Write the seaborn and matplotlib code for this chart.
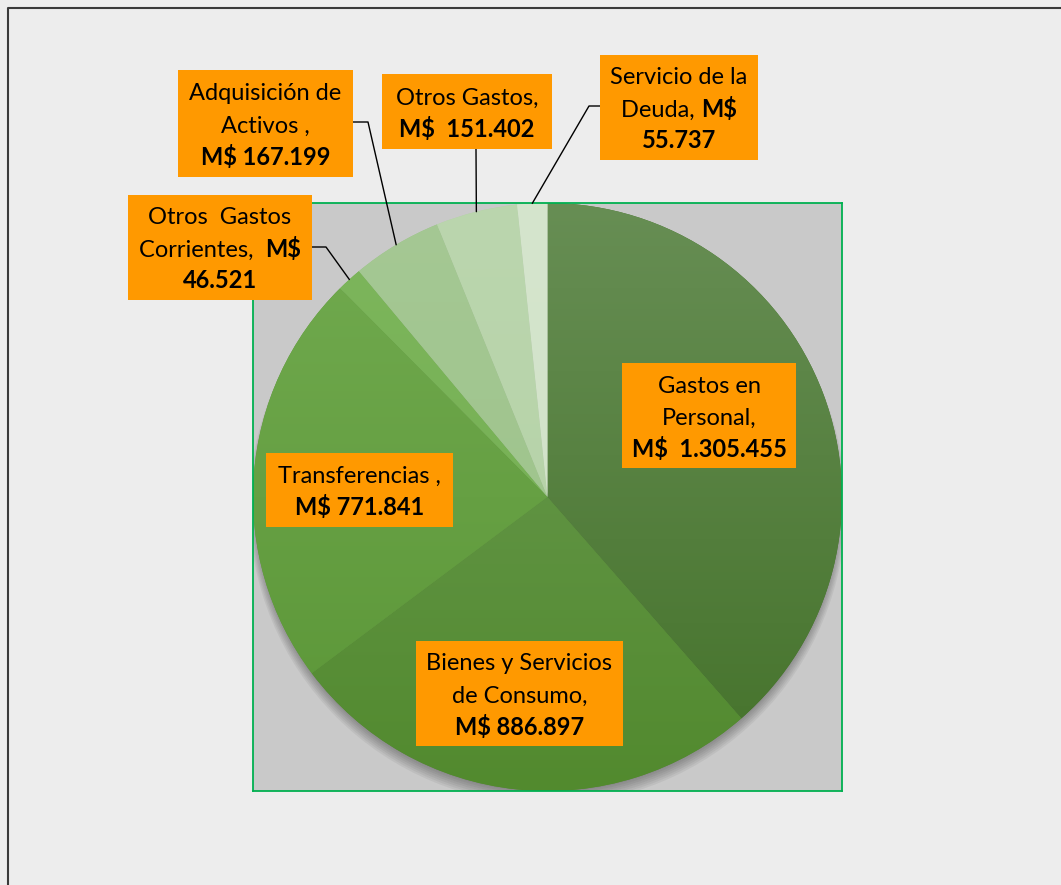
import numpy as np
import matplotlib
matplotlib.use('Agg')
import matplotlib.pyplot as plt
import seaborn as sns
from matplotlib.patches import Rectangle, Circle
from matplotlib.lines import Line2D
from matplotlib.colors import LinearSegmentedColormap

# Datos del gasto (M$)
categorias = ['Gastos en Personal', 'Bienes y Servicios de Consumo', 'Transferencias',
              'Otros Gastos Corrientes', 'Adquisición de Activos', 'Otros Gastos',
              'Servicio de la Deuda']
montos = [1305455, 886897, 771841, 46521, 167199, 151402, 55737]

# Colores (arriba / abajo del degradado)
color_sup = ['#678E54', '#6C9B55', '#72AB50', '#7DB65C', '#A5C894', '#BBD6AE', '#D5E5CD']
color_inf = ['#44722A', '#528A2E', '#5A9536', '#72AD50', '#9BC288', '#B3D1A5', '#CFE1C6']

def miles(v):
    return f"{v:,}".replace(',', '.')

# etiquetas: lineas -> segmentos (texto, negrita)
N, B = False, True
etiquetas = [
    [[("Gastos en", N)], [("Personal,", N)], [("M$  " + miles(montos[0]), B)]],
    [[("Bienes y Servicios", N)], [("de Consumo,", N)], [("M$ " + miles(montos[1]), B)]],
    [[("Transferencias ,", N)], [("M$ " + miles(montos[2]), B)]],
    [[("Otros  Gastos", N)], [("Corrientes,  ", N), ("M$", B)], [(miles(montos[3]), B)]],
    [[("Adquisición de", N)], [("Activos ,", N)], [("M$ " + miles(montos[4]), B)]],
    [[("Otros Gastos,", N)], [("M$  " + miles(montos[5]), B)]],
    [[("Servicio de la", N)], [("Deuda, ", N), ("M$", B)], [(miles(montos[6]), B)]],
]

# cajas de etiquetas en pixeles (x0, y0, x1, y1), origen arriba-izquierda
cajas = [
    (622, 363, 796, 468),
    (416, 641, 623, 746),
    (266, 453, 453, 527),
    (128, 195, 312, 300),
    (178, 70, 353, 177),
    (382, 74, 552, 149),
    (600, 55, 758, 160),
]
# lineas guia: indice -> (punto en la caja, codo)
guias = {3: [(312, 247), (326, 247)],
         4: [(353, 122), (368, 122)],
         5: [(476, 149)],
         6: [(600, 106), (589, 106)]}

sns.set_style('white')
plt.rcParams['font.family'] = ['Lato', 'DejaVu Sans']

W, H = 1061, 885
fig = plt.figure(figsize=(W / 100, H / 100), dpi=100)
fig.patch.set_facecolor('#EDEDED')

def fx(x):
    return x / W

def fy(y):
    return 1 - y / H

# borde exterior
fig.add_artist(Line2D([fx(8), fx(8), fx(W + 5)], [fy(H + 5), fy(8), fy(8)],
                      transform=fig.transFigure, color='#3A3A3A', lw=1.5))

ax = fig.add_axes([fx(253), fy(791), (842 - 253) / W, (791 - 203) / H])
ax.set_facecolor('#C9C9C9')

# sombra suave (hacia abajo)
for k in range(8):
    ax.add_patch(Circle((0, -0.012 - 0.003 * k), 0.985 + 0.004 * k, color='black',
                        alpha=0.05, lw=0, zorder=0))

wedges, _ = ax.pie(montos, colors=color_inf, startangle=90, counterclock=False,
                   radius=1.0, frame=True, wedgeprops=dict(linewidth=0))

grad = np.linspace(1, 0, 256).reshape(-1, 1)
for w, c1, c2 in zip(wedges, color_sup, color_inf):
    cmap = LinearSegmentedColormap.from_list('g', [c2, c1])
    im = ax.imshow(grad, extent=(-1, 1, -1, 1), cmap=cmap, aspect='auto', zorder=2,
                   vmin=0, vmax=1)
    im.set_clip_path(w)

ax.set_xlim(-1, 1)
ax.set_ylim(-1, 1)
ax.set_xticks([])
ax.set_yticks([])
for s in ax.spines.values():
    s.set_color('#00B050')
    s.set_linewidth(1.3)
    s.set_zorder(5)

# etiquetas: cada linea por separado para controlar el interlineado
renderer = fig.canvas.get_renderer()
paso = 32
tam = 17
for lineas, (x0, y0, x1, y1) in zip(etiquetas, cajas):
    fig.add_artist(Rectangle((fx(x0), fy(y1)), (x1 - x0) / W, (y1 - y0) / H,
                             transform=fig.transFigure, fc='#FF9900', ec='none', zorder=6))
    cx, cy = (x0 + x1) / 2, (y0 + y1) / 2
    n = len(lineas)
    for k, segs in enumerate(lineas):
        base = cy + (k - (n - 1) / 2) * paso + 9
        textos = [fig.text(0, fy(base), t, fontsize=tam, fontweight='bold' if b else 'normal',
                           ha='left', va='baseline', color='black', zorder=7) for t, b in segs]
        anchos = [t.get_window_extent(renderer).width for t in textos]
        x = cx - sum(anchos) / 2
        for t, a in zip(textos, anchos):
            t.set_x(fx(x))
            x += a

# lineas guia hacia el borde del sector
total = sum(montos)
ang = 90.0
for i, v in enumerate(montos):
    theta = ang - 360.0 * v / total / 2
    ang -= 360.0 * v / total
    if i in guias:
        px, py = ax.transData.transform((np.cos(np.radians(theta)), np.sin(np.radians(theta))))
        xs = [fx(p[0]) for p in guias[i]] + [px / W]
        ys = [fy(p[1]) for p in guias[i]] + [py / H]
        fig.add_artist(Line2D(xs, ys, transform=fig.transFigure, color='black', lw=1, zorder=5))

fig.savefig('out.png', dpi=100, facecolor=fig.get_facecolor())
